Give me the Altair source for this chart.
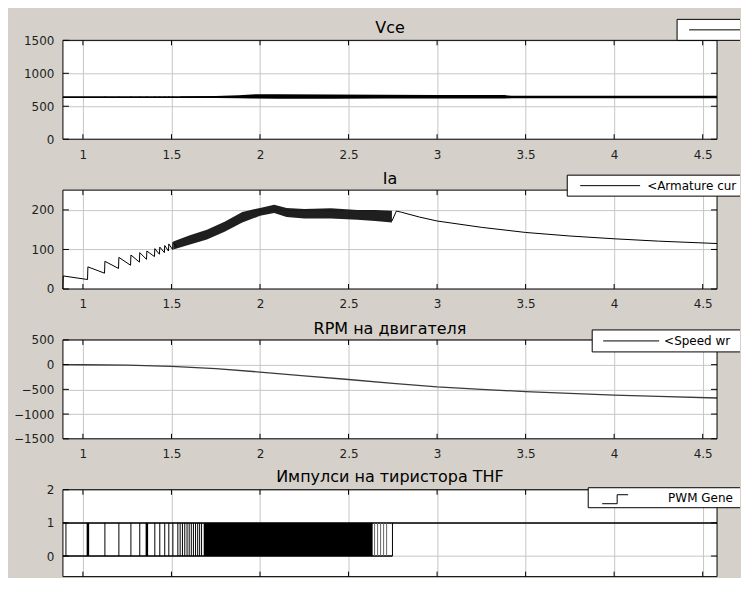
import altair as alt
import pandas as pd

# ---------------- data ----------------
x_ticks = [1, 1.5, 2, 2.5, 3, 3.5, 4, 4.5]
x_domain = [0.887, 4.581]

titles = ["Vce", "Ia", "RPM на двигателя", "Импулси на тиристора THF"]
legend_labels = ["", "<Armature cur", "<Speed wr", "PWM Gene"]

# Panel 1 : Vce
vce_domain = [0, 1500]
vce_yticks = [0, 500, 1000, 1500]
vce_t = [0.887, 4.581]
vce_v = [640, 640]
vce_band_t = [1.55, 1.75, 1.88, 1.95, 2.10, 2.40, 2.70, 3.00, 3.38, 3.42, 4.00, 4.581]
vce_band_lo = [632, 627, 623, 618, 615, 615, 617, 618, 618, 621, 621, 621]
vce_band_hi = [648, 656, 667, 680, 684, 679, 675, 671, 669, 659, 658, 658]
vce_spike_t = [1.124, 1.203, 1.271, 1.321, 1.361, 1.406, 1.434, 1.462, 1.485, 1.508]
vce_spike_lo = [634, 634, 633, 633, 632, 632, 632, 631, 631, 631]
vce_spike_hi = [648, 648, 649, 649, 650, 650, 651, 651, 652, 652]

# Panel 2 : Ia
ia_domain = [0, 250]
ia_yticks = [0, 100, 200]
ia_teeth_t = [0.887, 0.889, 1.026, 1.028, 1.122, 1.124, 1.201, 1.203, 1.269, 1.271,
              1.319, 1.321, 1.359, 1.361, 1.404, 1.406, 1.432, 1.434, 1.460, 1.462,
              1.483, 1.485, 1.506, 1.508, 1.530]
ia_teeth_v = [0, 33, 24, 56, 40, 70, 52, 80, 60, 86,
              68, 92, 75, 96, 82, 102, 88, 106, 92, 110,
              96, 114, 100, 118, 106]
ia_band_t = [1.51, 1.60, 1.70, 1.80, 1.90, 2.00, 2.08, 2.15, 2.25, 2.40, 2.55, 2.65, 2.745]
ia_band_lo = [100, 112, 125, 145, 168, 185, 192, 182, 178, 178, 175, 172, 168]
ia_band_hi = [120, 135, 150, 170, 195, 205, 213, 205, 202, 204, 200, 200, 198]
ia_decay_t = [2.745, 2.77, 2.80, 2.90, 3.00, 3.25, 3.50, 3.75, 4.00, 4.25, 4.581]
ia_decay_v = [172, 197, 194, 182, 172, 156, 143, 134, 127, 121, 115]

# Panel 3 : RPM
rpm_domain = [-1500, 500]
rpm_yticks = [-1500, -1000, -500, 0, 500]
rpm_t = [0.887, 1.0, 1.25, 1.5, 1.75, 2.0, 2.25, 2.5, 2.75, 3.0, 3.25, 3.5, 3.75, 4.0, 4.25, 4.581]
rpm_v = [0, -2, -10, -35, -80, -150, -225, -300, -380, -450, -500, -545, -580, -615, -640, -675]

# Panel 4 : PWM pulses
pwm_domain = [-0.62, 2]
pwm_yticks = [0, 1, 2]
pwm_levels = [0, 1]
pwm_pulse_t = [0.904, 1.028, 1.124, 1.203, 1.271, 1.321, 1.361, 1.406, 1.434, 1.462,
               1.485, 1.508, 1.536, 1.549, 1.562, 1.575, 1.588, 1.600, 1.612, 1.624,
               1.636, 1.648, 1.659, 1.670, 2.748]
pwm_thick_t = [1.028, 1.361]
pwm_block = [1.682, 2.636]
pwm_tail_t = [2.647, 2.664, 2.681, 2.698, 2.715]
pwm_low_t = [0.887, 2.748]
pwm_high_t = [0.887, 4.581]

# ---------------- styling / layout ----------------
BG = "#d5d1ca"
GRID = "#c6c6c6"
FONT = "DejaVu Sans"
W = 655
H = 99
H4 = 87
BXR = 678          # right end of the (cut-off) legend boxes, plot pixels
one = pd.DataFrame({"k": [0]})


def encoders(ydom, yticks, show_x=True):
    xs = alt.Scale(domain=x_domain, nice=False, zero=False)
    ys = alt.Scale(domain=ydom, nice=False, zero=False)
    xa = alt.Axis(values=x_ticks, format="~g", grid=True, domain=False, ticks=False,
                  labels=show_x, labelPadding=10, labelFlush=False, title=None)
    ya = alt.Axis(values=yticks, format="d", grid=True, domain=False, ticks=False,
                  labelPadding=9, labelFlush=False, title=None)

    def X(f):
        return alt.X(f, type="quantitative", scale=xs, axis=xa)

    def Y(f):
        return alt.Y(f, type="quantitative", scale=ys, axis=ya)

    return X, Y


def frame(X, Y, yticks, h):
    xt = pd.DataFrame({"tick": x_ticks})
    yt = pd.DataFrame({"tick": yticks})
    border = alt.Chart(one).mark_rect(fillOpacity=0, stroke="black", strokeWidth=1).encode(
        x=alt.value(0), x2=alt.value(W), y=alt.value(0), y2=alt.value(h))
    tt = alt.Chart(xt).mark_rule(color="black").encode(x=X("tick"), y=alt.value(0), y2=alt.value(5))
    tb = alt.Chart(xt).mark_rule(color="black").encode(x=X("tick"), y=alt.value(h - 5), y2=alt.value(h))
    tl = alt.Chart(yt).mark_rule(color="black").encode(y=Y("tick"), x=alt.value(0), x2=alt.value(6))
    tr = alt.Chart(yt).mark_rule(color="black").encode(y=Y("tick"), x=alt.value(W - 6), x2=alt.value(W))
    return [border, tt, tb, tl, tr]


def legend_box(x0, y0, y1):
    box = alt.Chart(one).mark_rect(color="white").encode(
        x=alt.value(x0), x2=alt.value(BXR), y=alt.value(y0), y2=alt.value(y1))
    e1 = alt.Chart(one).mark_rule(color="black").encode(x=alt.value(x0), x2=alt.value(BXR), y=alt.value(y0))
    e2 = alt.Chart(one).mark_rule(color="black").encode(x=alt.value(x0), x2=alt.value(BXR), y=alt.value(y1))
    e3 = alt.Chart(one).mark_rule(color="black").encode(x=alt.value(x0), y=alt.value(y0), y2=alt.value(y1))
    return [box, e1, e2, e3]


def seg(xa, xb, ya, yb=None, width=1):
    enc = dict(x=alt.value(xa), y=alt.value(ya))
    if xb is not None:
        enc["x2"] = alt.value(xb)
    if yb is not None:
        enc["y2"] = alt.value(yb)
    return alt.Chart(one).mark_rule(color="black", strokeWidth=width).encode(**enc)


def legend_text(label, tx, ty):
    return alt.Chart(pd.DataFrame({"label": [label]})).mark_text(
        align="left", baseline="middle", font=FONT, fontSize=12, color="black",
        limit=BXR - tx - 1, ellipsis="").encode(
        x=alt.value(tx), y=alt.value(ty), text="label:N")


def title_mark(t, ty):
    return alt.Chart(pd.DataFrame({"title": [t]})).mark_text(
        align="center", baseline="alphabetic", font=FONT, fontSize=16, color="black").encode(
        x=alt.value(W / 2), y=alt.value(ty), text="title:N")


# ---------- panel 1 ----------
X, Y = encoders(vce_domain, vce_yticks)
d_vce = pd.DataFrame({"t": vce_t, "v": vce_v})
d_vband = pd.DataFrame({"t": vce_band_t, "lo": vce_band_lo, "hi": vce_band_hi})
d_vsp = pd.DataFrame({"t": vce_spike_t, "lo": vce_spike_lo, "hi": vce_spike_hi})
p1_layers = [
    alt.Chart(d_vce).mark_line(color="black", strokeWidth=1.8).encode(x=X("t"), y=Y("v")),
    alt.Chart(d_vband).mark_area(color="black").encode(x=X("t"), y=Y("lo"), y2=alt.Y2("hi")),
    alt.Chart(d_vsp).mark_rule(color="black").encode(x=X("t"), y=Y("lo"), y2=alt.Y2("hi")),
] + frame(X, Y, vce_yticks, H) + legend_box(615, -21, 0) + [
    seg(627, BXR, -10.5),
    title_mark(titles[0], -7),
    alt.Chart(one).mark_rule(color=BG).encode(x=alt.value(-54), y=alt.value(-31), y2=alt.value(-30)),
]
p1 = alt.layer(*p1_layers).properties(width=W, height=H)

# ---------- panel 2 ----------
X, Y = encoders(ia_domain, ia_yticks)
d_teeth = pd.DataFrame({"t": ia_teeth_t, "v": ia_teeth_v})
d_iband = pd.DataFrame({"t": ia_band_t, "lo": ia_band_lo, "hi": ia_band_hi})
d_decay = pd.DataFrame({"t": ia_decay_t, "v": ia_decay_v})
p2_layers = [
    alt.Chart(d_teeth).mark_line(color="black", strokeWidth=1).encode(x=X("t"), y=Y("v")),
    alt.Chart(d_iband).mark_area(color="black", opacity=0.88).encode(x=X("t"), y=Y("lo"), y2=alt.Y2("hi")),
    alt.Chart(d_decay).mark_line(color="black", strokeWidth=1).encode(x=X("t"), y=Y("v")),
] + frame(X, Y, ia_yticks, H) + legend_box(505, -15, 6) + [
    seg(518, 578, -4.5),
    legend_text(legend_labels[1], 585, -4.5),
    title_mark(titles[1], -6),
]
p2 = alt.layer(*p2_layers).properties(width=W, height=H)

# ---------- panel 3 ----------
X, Y = encoders(rpm_domain, rpm_yticks)
d_rpm = pd.DataFrame({"t": rpm_t, "v": rpm_v})
p3_layers = [
    alt.Chart(d_rpm).mark_line(color="#3a3a3a", strokeWidth=1.3).encode(x=X("t"), y=Y("v")),
] + frame(X, Y, rpm_yticks, H) + legend_box(530, -10, 12) + [
    seg(541, 597, 1),
    legend_text(legend_labels[2], 602, 1),
    title_mark(titles[2], -6),
]
p3 = alt.layer(*p3_layers).properties(width=W, height=H)

# ---------- panel 4 ----------
X, Y = encoders(pwm_domain, pwm_yticks, show_x=False)
lo, hi = pwm_levels
d_low = pd.DataFrame({"t": pwm_low_t, "v": [lo, lo]})
d_high = pd.DataFrame({"t": pwm_high_t, "v": [hi, hi]})
d_pulse = pd.DataFrame({"t": pwm_pulse_t, "lo": lo, "hi": hi})
d_thick = pd.DataFrame({"t": pwm_thick_t, "lo": lo, "hi": hi})
d_tail = pd.DataFrame({"t": pwm_tail_t, "lo": lo, "hi": hi})
d_block = pd.DataFrame({"t": [pwm_block[0]], "t2": [pwm_block[1]], "lo": [lo], "hi": [hi]})
p4_layers = [
    alt.Chart(d_low).mark_line(color="black", strokeWidth=1.5).encode(x=X("t"), y=Y("v")),
    alt.Chart(d_high).mark_line(color="black", strokeWidth=1.5).encode(x=X("t"), y=Y("v")),
    alt.Chart(d_pulse).mark_rule(color="black", strokeWidth=1).encode(x=X("t"), y=Y("lo"), y2=alt.Y2("hi")),
    alt.Chart(d_thick).mark_rule(color="black", strokeWidth=2.5).encode(x=X("t"), y=Y("lo"), y2=alt.Y2("hi")),
    alt.Chart(d_tail).mark_rule(color="#666666", strokeWidth=1).encode(x=X("t"), y=Y("lo"), y2=alt.Y2("hi")),
    alt.Chart(d_block).mark_rect(color="black").encode(x=X("t"), x2=alt.X2("t2"), y=Y("lo"), y2=alt.Y2("hi")),
] + frame(X, Y, pwm_yticks, H4) + legend_box(526, -2, 18) + [
    seg(540, 555, 14),
    seg(555, None, 5, 14),
    seg(555, 566, 5),
    legend_text(legend_labels[3], 606, 8),
    title_mark(titles[3], -8),
]
p4 = alt.layer(*p4_layers).properties(width=W, height=H4)

chart = (
    alt.vconcat(p1, p2, p3, p4, spacing=51, bounds="flush")
    .properties(padding=0, background=BG)
    .configure_axis(labelFont=FONT, labelFontSize=12, labelColor="#1e1e1e",
                    gridColor=GRID, gridWidth=1)
    .configure_view(fill="white", strokeWidth=0)
)

chart.save("out.html", embed_options={"renderer": "svg", "actions": False})
